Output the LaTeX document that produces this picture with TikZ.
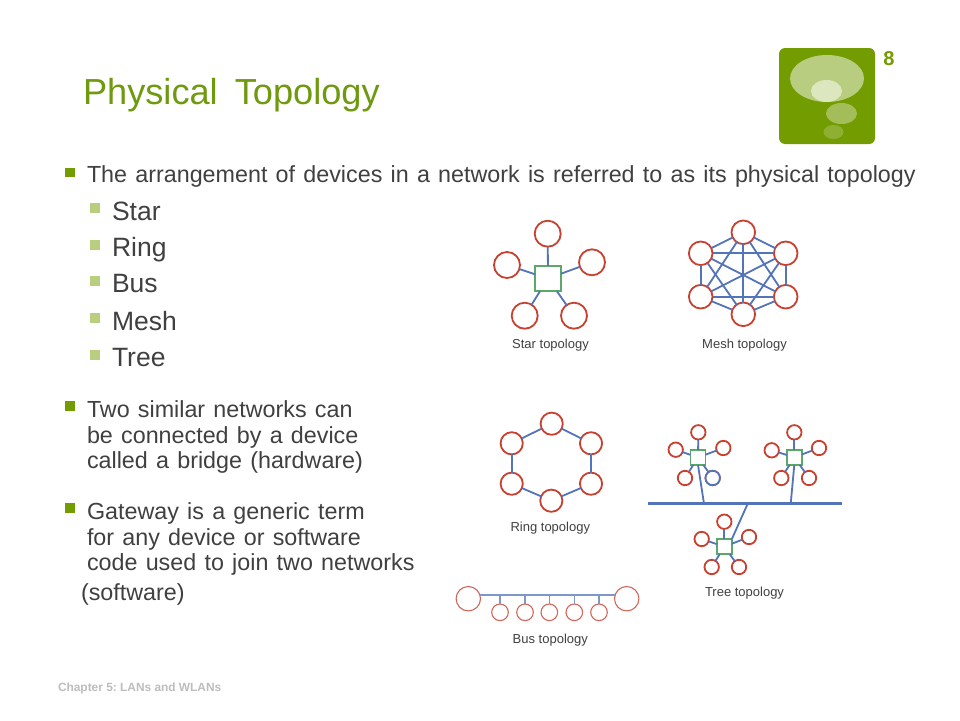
\documentclass[tikz,border=0pt]{standalone}
\usepackage{fontspec}
\setmainfont{Liberation Sans}
\definecolor{slidegreen}{HTML}{739C00}
\definecolor{titlegreen}{HTML}{6F9A10}
\definecolor{bodytext}{HTML}{404040}
\definecolor{lightbullet}{HTML}{B9CE7F}
\definecolor{nodered}{HTML}{C8402F}
\definecolor{linkblue}{HTML}{5374B8}
\definecolor{hubgreen}{HTML}{5BA868}
\definecolor{footgrey}{HTML}{BDBDBD}
\newcommand\wbody[1]{\spaceskip=8.25pt\relax #1}
\newcommand\wtitle[1]{\spaceskip=17pt\relax #1}
\tikzset{
  every node/.style={inner sep=0pt,outer sep=0pt},
  ctext/.style={anchor=base west,text=bodytext,font=\frenchspacing\fontsize{23.3}{25}\selectfont},
  subtext/.style={anchor=base west,text=bodytext,font=\fontsize{26.5}{28}\selectfont},
  tlabel/.style={anchor=base,text=bodytext,font=\frenchspacing\fontsize{13}{15}\selectfont},
  bul/.style={fill=slidegreen,minimum size=9.5pt},
  sbul/.style={fill=lightbullet,minimum size=10pt},
  host/.style={circle,draw=nodered,line width=1.8pt,fill=white,minimum size=#1},
  host/.default=26pt,
  hub/.style={rectangle,draw=hubgreen,line width=1.8pt,fill=white,minimum size=#1},
  link/.style={draw=linkblue,line width=1.8pt},
  buslink/.style={draw=linkblue!75,line width=1.1pt},
  thinhost/.style={circle,draw=nodered!80,line width=1.1pt,fill=white,minimum size=#1},
}
\begin{document}
\begin{tikzpicture}[x=1pt,y=-1pt]
\useasboundingbox (0,0) rectangle (960,720);
\fill[white] (0,0) rectangle (960,720);
% title
\node[anchor=base west,text=titlegreen,font=\fontsize{36.2}{38}\selectfont] (title) at (83,104) {\wtitle{Physical Topology}};
\node[anchor=base,text=slidegreen,font=\bfseries\fontsize{20}{22}\selectfont] (pnum) at (889,65) {8};
% logo
\fill[slidegreen,rounded corners=6pt] (779,48) rectangle (875,144);
\fill[white,opacity=.5] (827,78.5) ellipse (37 and 23.5);
\fill[white,opacity=.5] (826.5,91) ellipse (15.5 and 11);
\fill[white,opacity=.35] (841.5,113.5) ellipse (15.5 and 10.5);
\fill[white,opacity=.2] (833.5,132) ellipse (10 and 7);
% body
\node[bul] (b1) at (70,172.5) {};
\node[ctext] (t1) at (87,182.7) {\wbody{The arrangement of devices in a network is referred to as its physical topology}};
\node[sbul] (s1) at (95,208.3) {};
\node[subtext] (st1) at (112,220) {Star};
\node[sbul] (s2) at (95,245) {};
\node[subtext] (st2) at (112,256.7) {Ring};
\node[sbul] (s3) at (95,281) {};
\node[subtext] (st3) at (112,292.7) {Bus};
\node[sbul] (s4) at (95,317.7) {};
\node[subtext] (st4) at (112,330) {Mesh};
\node[sbul] (s5) at (95,355) {};
\node[subtext] (st5) at (112,366.7) {Tree};
\node[bul] (b2) at (70,406) {};
\node[ctext] (t2) at (87,417) {\wbody{Two similar networks can}};
\node[ctext] (t3) at (87,443) {\wbody{be connected by a device}};
\node[ctext] (t4) at (87,468.7) {\wbody{called a bridge (hardware)}};
\node[bul] (b3) at (70,508) {};
\node[ctext] (t5) at (87,519) {\wbody{Gateway is a generic term}};
\node[ctext] (t6) at (87,545) {\wbody{for any device or software}};
\node[ctext] (t7) at (87,570.3) {\wbody{code used to join two networks}};
\node[ctext] (t8) at (81,600) {(software)};
\node[anchor=base west,text=footgrey,font=\bfseries\frenchspacing\fontsize{11.9}{14}\selectfont] (foot) at (58,691) {Chapter 5: LANs and WLANs};
% star
\node[hub=25.6pt] (shub) at (548,278.5) {};
\node[host] (sa) at (547.7,233.7) {};
\node[host] (sb) at (507,265) {};
\node[host] (sc) at (592,262.3) {};
\node[host] (sd) at (524.7,315.7) {};
\node[host] (se) at (574,315.7) {};
\foreach \n in {sa,sb,sc,sd,se} \draw[link] (\n) -- (shub);
\node[tlabel] (lstar) at (550.5,348) {Star topology};
% mesh
\node[host=23.6pt] (m1) at (743.3,232.3) {};
\node[host=23.6pt] (m2) at (785.7,253.3) {};
\node[host=23.6pt] (m3) at (785.7,296.7) {};
\node[host=23.6pt] (m4) at (743.3,314.3) {};
\node[host=23.6pt] (m5) at (700.7,296.7) {};
\node[host=23.6pt] (m6) at (700.7,253.3) {};
\foreach \a/\b in {m1/m2,m1/m3,m1/m4,m1/m5,m1/m6,m2/m3,m2/m4,m2/m5,m2/m6,m3/m4,m3/m5,m3/m6,m4/m5,m4/m6,m5/m6}
  \draw[link] (\a) -- (\b);
\node[tlabel] (lmesh) at (744.5,348) {Mesh topology};
% ring
\node[host=22.2pt] (r1) at (551.7,423.7) {};
\node[host=22.2pt] (r2) at (591,443.3) {};
\node[host=22.2pt] (r3) at (591,483.7) {};
\node[host=22.2pt] (r4) at (551.3,500.7) {};
\node[host=22.2pt] (r5) at (511.7,483.7) {};
\node[host=22.2pt] (r6) at (511.7,443.3) {};
\foreach \a/\b in {r1/r2,r2/r3,r3/r4,r4/r5,r5/r6,r6/r1} \draw[link] (\a) -- (\b);
\node[tlabel] (lring) at (550.3,531) {Ring topology};
% bus
\node[thinhost=24.4pt] (bl) at (468.3,598.7) {};
\node[thinhost=24.4pt] (br) at (626.7,598.7) {};
\coordinate (bbl) at (480.3,595);
\coordinate (bbr) at (614.7,595);
\draw[buslink] (bbl) -- (bbr);
\foreach \i/\x in {1/500,2/525,3/549.3,4/574.3,5/599}{
  \coordinate (bt\i) at (\x,595);
  \node[thinhost=16.6pt] (bs\i) at (\x,612.3) {};
  \draw[buslink] (bt\i) -- (bs\i);
}
\node[tlabel] (lbus) at (550.3,643) {Bus topology};
% tree
\coordinate (busa) at (648.3,503.7);
\coordinate (busb) at (841.7,503.7);
\coordinate (ta) at (704,503.7);
\coordinate (tb) at (790.7,503.7);
\coordinate (tc) at (747.7,503.7);
\draw[draw=linkblue,line width=3pt] (busa) -- (busb);
\foreach \h/\n/\hx/\hy/\ax/\ay/\bx/\by/\cx/\cy/\dx/\dy/\ex/\ey in {
  h1/p/698/457.5/698.3/432.3/675.7/449.7/723.3/448/685/478/712.7/478,
  h2/q/794.3/457.3/794.3/432.3/771.7/450.3/819/448/781.3/478/809/478,
  h3/u/724.3/546.7/724.3/521.7/701.7/539/749/537/711.7/567/739/567}{
  \node[hub=15pt] (\h) at (\hx,\hy) {};
  \node[host=14.4pt] (\n a) at (\ax,\ay) {};
  \node[host=14.4pt] (\n b) at (\bx,\by) {};
  \node[host=14.4pt] (\n c) at (\cx,\cy) {};
  \node[host=14.4pt] (\n d) at (\dx,\dy) {};
  \node[host=14.4pt] (\n e) at (\ex,\ey) {};
  \foreach \m in {a,b,c,d,e} \draw[link] (\n\m) -- (\h);
}
\draw[link] (h1.south) -- (ta);
\draw[link] (h2.south) -- (tb);
\draw[link] (h3.north east) -- (tc);
\node[host=14.4pt,draw=linkblue] (pe2) at (712.7,478) {};
\node[tlabel] (ltree) at (744.5,596) {Tree topology};
\end{tikzpicture}
\end{document}
